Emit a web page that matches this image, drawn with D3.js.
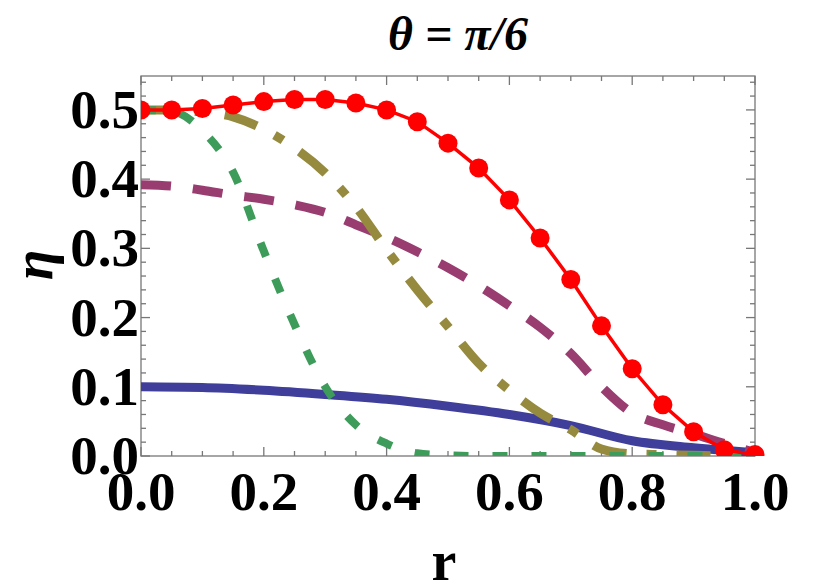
<!DOCTYPE html><html><head><meta charset="utf-8"><script src="https://d3js.org/d3.v7.min.js"></script>
<style>body{margin:0;background:#fff}</style></head><body><svg id="c" width="830" height="588"></svg>
<script>
const rGrid=[0,0.05,0.1,0.15,0.2,0.25,0.3,0.35,0.4,0.45,0.5,0.55,0.6,0.65,0.7,0.75,0.8,0.85,0.9,0.95,1];
const redVals=[0.5,0.5,0.502,0.507,0.512,0.515,0.515,0.51,0.5,0.483,0.452,0.416,0.37,0.315,0.255,0.188,0.126,0.074,0.035,0.009,0.002];
const purpleVals=[0.392,0.39,0.384,0.377,0.371,0.363,0.352,0.334,0.316,0.295,0.272,0.246,0.217,0.186,0.148,0.1,0.062,0.045,0.032,0.018,0.005];
const oliveVals=[0.5,0.5,0.497,0.49,0.472,0.445,0.409,0.36,0.298,0.24,0.187,0.134,0.095,0.062,0.038,0.01,0.003,0.002,0.001,0,0];
const greenVals=[0.5,0.498,0.47,0.41,0.296,0.19,0.1,0.045,0.018,0.004,0.001,0,0,0,0,0,0,0,0,0,0];
const blueR=[0,0.1,0.2,0.3,0.4,0.5,0.6,0.7,0.8,0.9,1];
const blueVals=[0.1,0.099,0.095,0.089,0.082,0.072,0.06,0.044,0.022,0.012,0.005];
const xTicks=[0,0.2,0.4,0.6,0.8,1.0], yTicks=[0,0.1,0.2,0.3,0.4,0.5];

const svg=d3.select("#c");
const L=141,R=755,T=76,B=456;
const x=d3.scaleLinear().domain([0,1]).range([L,R]);
const y=d3.scaleLinear().domain([0,0.549]).range([B,T]);
svg.append("defs").append("clipPath").attr("id","cp").append("rect").attr("x",L).attr("y",T-10).attr("width",R-L+10).attr("height",B-T+10);
const g=svg.append("g");
const fr=g.append("g").attr("stroke","#777").attr("stroke-width",1.3);
fr.append("rect").attr("x",L).attr("y",T).attr("width",R-L).attr("height",B-T).attr("fill","none");
d3.range(0,1.0001,0.05).forEach(v=>{const maj=Math.abs(v*5-Math.round(v*5))<1e-6;const l=maj?9:5;
 fr.append("line").attr("x1",x(v)).attr("x2",x(v)).attr("y1",B).attr("y2",B-l);
 fr.append("line").attr("x1",x(v)).attr("x2",x(v)).attr("y1",T).attr("y2",T+l);});
d3.range(0,0.5401,0.02).forEach(v=>{const maj=Math.abs(v*10-Math.round(v*10))<1e-6;const l=maj?9:5;
 fr.append("line").attr("y1",y(v)).attr("y2",y(v)).attr("x1",L).attr("x2",L+l);
 fr.append("line").attr("y1",y(v)).attr("y2",y(v)).attr("x1",R).attr("x2",R-l);});
const font="'Liberation Serif','Times New Roman',serif";
const tx=svg.append("g").attr("font-family",font).attr("font-weight","bold").attr("font-size",55);
xTicks.forEach(v=>tx.append("text").attr("x",x(v)).attr("y",510).attr("text-anchor","middle").text(v.toFixed(1)));
yTicks.forEach(v=>tx.append("text").attr("x",139).attr("y",y(v)+18).attr("text-anchor","end").text(v.toFixed(1)));
svg.append("text").attr("x",458).attr("y",50).attr("text-anchor","middle").attr("font-family",font).attr("font-weight","bold").attr("font-size",48).attr("font-style","italic").text("θ = π/6");
svg.append("text").attr("x",444).attr("y",580).attr("text-anchor","middle").attr("font-family",font).attr("font-weight","bold").attr("font-size",56).text("r");
svg.append("text").attr("transform","translate(52,265) rotate(-90)").attr("text-anchor","middle").attr("font-family",font).attr("font-weight","bold").attr("font-style","italic").attr("font-size",56).text("η");
const pl=g.append("g").attr("clip-path","url(#cp)").attr("fill","none");
const line=d3.line().curve(d3.curveMonotoneX);
const mk=(rs,vs)=>line(rs.map((r,i)=>[x(r),y(vs[i])]));
pl.append("path").attr("d",mk(blueR,blueVals)).attr("stroke","#3f3f9b").attr("stroke-width",9);
pl.append("path").attr("d",mk(rGrid,purpleVals)).attr("stroke","#993d71").attr("stroke-width",9).attr("stroke-dasharray","30,22");
pl.append("path").attr("d",mk(rGrid,oliveVals)).attr("stroke","#968a3e").attr("stroke-width",9).attr("stroke-dasharray","34,20,10,20");
pl.append("path").attr("d",mk(rGrid,greenVals)).attr("stroke","#3e9c5a").attr("stroke-width",8).attr("stroke-dasharray","15,24");
pl.append("path").attr("d",d3.line()(rGrid.map((r,i)=>[x(r),y(redVals[i])]))).attr("stroke","#ff0000").attr("stroke-width",3.5);
pl.selectAll("circle").data(rGrid).join("circle").attr("cx",d=>x(d)).attr("cy",(d,i)=>y(redVals[i])).attr("r",9.5).attr("fill","#ff0000");
</script></body></html>
